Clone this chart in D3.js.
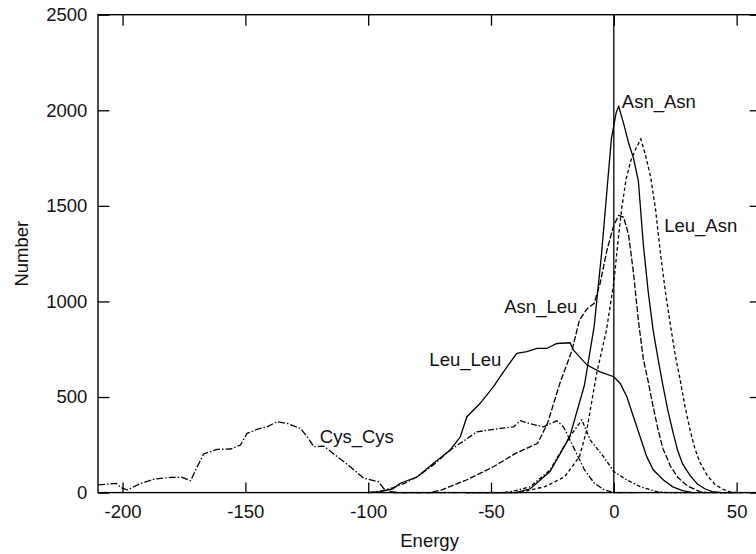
<!DOCTYPE html>
<html>
<head>
<meta charset="utf-8">
<script src="https://cdn.jsdelivr.net/npm/d3@7"></script>
<style>
  body { margin: 0; background: #fff; }
  svg { display: block; font-family: "Liberation Sans", Arial, Helvetica, sans-serif; }
</style>
</head>
<body>
<div id="chart"></div>
<script>
// energy histograms, values as [energy, number]
const cysCys = [[-210,40],[-202.6,48],[-200,22],[-198,14],[-192.6,48],[-187,71],[-180,80],[-175.7,80],[-172.3,62],[-169.6,135],[-167,202],[-161.6,226],[-156,228],[-152,249],[-149.3,310],[-145,332],[-141.2,344],[-137.1,371],[-133,362],[-127.6,336],[-124.8,292],[-122.1,240],[-118,243],[-112.6,188],[-107.3,135],[-101.8,75],[-99.8,69],[-95.8,57],[-93.7,22],[-91,5],[-88,0],[-60,0]];
const leuLeu = [[-100,0],[-95,5],[-90,20],[-86.9,49],[-80,83],[-73.4,153],[-66.6,223],[-62.5,292],[-59.8,397],[-54.4,467],[-49,554],[-43.5,658],[-39.5,728],[-35.4,737],[-31.3,754],[-27.3,754],[-23.2,780],[-17.8,784],[-16.4,745],[-10.9,667],[-5.6,632],[0,606],[2.6,571],[5.3,501],[8,397],[10.7,292],[13.4,188],[16.1,118],[20.2,66],[24,30],[28,10],[32,0]];
const shoulderC = [[-100,0],[-95,8],[-90,25],[-85,50],[-80,83],[-73,150],[-66.6,223],[-62.5,258],[-55.7,318],[-46.3,336],[-40.8,344],[-38.1,376],[-34,360],[-28.6,344],[-23.2,376],[-20.5,344],[-18.5,292],[-15,200],[-12,120],[-8,50],[-4,15],[0,0],[10,0]];
const peakD = [[-60,0],[-45,0],[-40,10],[-34,31],[-26,118],[-18,292],[-13,380],[-9.6,275],[-4.2,188],[0,110],[5.3,66],[10.7,31],[17.5,5],[22,0],[40,0]];
const asnLeu = [[-90,0],[-75,0],[-70,14],[-60,66],[-49,135],[-40,205],[-31,258],[-27,362],[-22,571],[-17,745],[-14,902],[-11,960],[-8,990],[-5.6,1094],[-2.8,1268],[0,1400],[2,1450],[4,1440],[6,1350],[8,1150],[10,900],[12,700],[14,580],[16,450],[18,330],[20,230],[23,140],[26,80],[30,35],[35,5],[38,0],[50,0]];
const asnAsn = [[-60,0],[-40,0],[-34,20],[-26,110],[-18,290],[-12,560],[-8,870],[-5,1250],[-3,1550],[-1,1850],[1,1990],[2,2020],[4,1930],[6,1830],[8,1750],[10,1630],[12,1300],[14,1050],[16,850],[18,700],[20,560],[22,430],[24,320],[26,220],[28,150],[31,90],[34,45],[37,20],[40,5],[44,0],[52,0]];
const leuAsn = [[-60,0],[-38,0],[-34,14],[-28,31],[-20,83],[-14,188],[-11,327],[-7,623],[-3,850],[0,1100],[2,1350],[3.3,1494],[5,1640],[7,1740],[9,1800],[11,1850],[13,1760],[15,1650],[17,1480],[19,1250],[21,1050],[23,880],[25,720],[27,590],[29,450],[31,330],[33,230],[35,160],[38,90],[41,45],[44,20],[47,5],[50,0],[55,0]];

const seriesNames = ["Cys_Cys", "Leu_Leu", "C", "D", "Asn_Leu", "Asn_Asn", "Leu_Asn"];
const seriesData = [cysCys, leuLeu, shoulderC, peakD, asnLeu, asnAsn, leuAsn];

// text labels placed at data coordinates
const labelText = ["Asn_Asn", "Leu_Asn", "Asn_Leu", "Leu_Leu", "Cys_Cys"];
const labelX = [3.25, 20.5, -44.6, -75.1, -119.7];
const labelY = [2045, 1396, 971, 694, 292];

const xTicks = [-200, -150, -100, -50, 0, 50];
const yTicks = [0, 500, 1000, 1500, 2000, 2500];

const svgWidth = 756;
const svgHeight = 554;
const margin = { top: 14.7, left: 98 };
const width = 663.2;   // right border falls just outside the picture
const height = 477.9;

const dashes = {
    "Cys_Cys": "7,2,1.5,2",
    "Leu_Leu": null,
    "C": "6,2,1.5,2",
    "D": "4,2,1.5,2",
    "Asn_Leu": "6,2",
    "Asn_Asn": null,
    "Leu_Asn": "3.5,2.5"
};

// plain hyphen minus, no thousands separator
const plain = (d) => String(d);

const s = d3.select("#chart")
    .append("svg")
    .attr("width", svgWidth)
    .attr("height", svgHeight)
    .style("overflow", "hidden");

const svg = s.append("g")
    .attr("transform", "translate(" + margin.left + "," + margin.top + ")");

const xScale = d3.scaleLinear().domain([-210, 60]).range([0, width]);
const yScale = d3.scaleLinear().domain([0, 2500]).range([height, 0]);

const styleAxis = (g) => {
    g.select(".domain").remove();
    g.selectAll("line").attr("stroke", "#000").attr("stroke-width", 1.3);
    g.selectAll("text")
        .attr("fill", "#111")
        .attr("font-size", "18.5px")
        .attr("font-family", "'Liberation Sans', Arial, sans-serif");
};

svg.append("g")
    .attr("transform", "translate(0," + height + ")")
    .call(d3.axisBottom(xScale).tickValues(xTicks).tickSize(-10).tickSizeOuter(0).tickPadding(12).tickFormat(plain))
    .call(styleAxis);

svg.append("g")
    .call(d3.axisTop(xScale).tickValues(xTicks).tickSize(-11).tickSizeOuter(0).tickFormat(""))
    .call(styleAxis);

svg.append("g")
    .call(d3.axisLeft(yScale).tickValues(yTicks).tickSize(-11.5).tickSizeOuter(0).tickPadding(10.7).tickFormat(plain))
    .call(styleAxis);

svg.append("g")
    .attr("transform", "translate(" + width + ",0)")
    .call(d3.axisRight(yScale).tickValues(yTicks).tickSize(-11.5).tickSizeOuter(0).tickFormat(""))
    .call(styleAxis);

// frame
svg.append("rect")
    .attr("x", 0)
    .attr("y", 0)
    .attr("width", width)
    .attr("height", height)
    .attr("fill", "none")
    .attr("stroke", "#000")
    .attr("stroke-width", 1.4);

// zero line
svg.append("line")
    .attr("x1", xScale(0))
    .attr("x2", xScale(0))
    .attr("y1", yScale(0))
    .attr("y2", yScale(2500))
    .attr("stroke", "#000")
    .attr("stroke-width", 1.3);

const line = d3.line()
    .x((d) => xScale(d[0]))
    .y((d) => yScale(d[1]));

svg.append("g")
    .selectAll("path")
    .data(seriesData)
    .enter()
    .append("path")
    .attr("fill", "none")
    .attr("stroke", "#000")
    .attr("stroke-width", 1.3)
    .attr("stroke-dasharray", (d, i) => dashes[seriesNames[i]])
    .attr("d", line);

svg.append("g")
    .selectAll("text")
    .data(labelText)
    .enter()
    .append("text")
    .attr("x", (d, i) => xScale(labelX[i]))
    .attr("y", (d, i) => yScale(labelY[i]))
    .attr("dy", "0.35em")
    .attr("font-size", "18.5px")
    .attr("fill", "#111")
    .text((d) => d);

// axis titles
s.append("text")
    .attr("x", margin.left + width / 2)
    .attr("y", 546.5)
    .attr("text-anchor", "middle")
    .attr("font-size", "18.5px")
    .attr("fill", "#111")
    .text("Energy");

s.append("text")
    .attr("transform", "translate(28," + (margin.top + height / 2) + ") rotate(-90)")
    .attr("text-anchor", "middle")
    .attr("font-size", "18.5px")
    .attr("fill", "#111")
    .text("Number");
</script>
</body>
</html>
